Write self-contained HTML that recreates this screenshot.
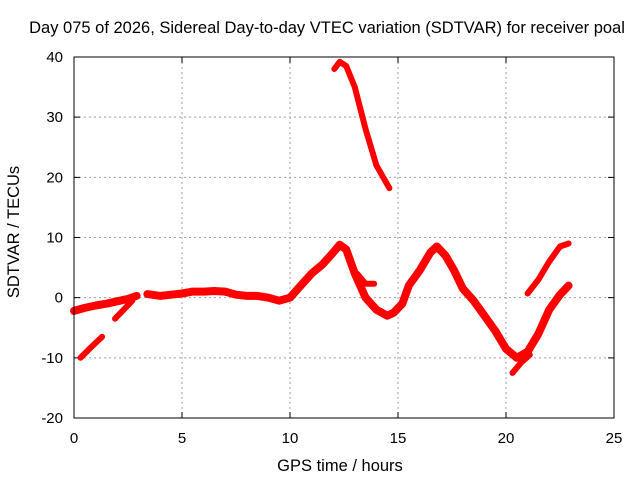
<!DOCTYPE html>
<html><head><meta charset="utf-8"><style>
body{margin:0;background:#fff}
svg text{font-family:"Liberation Sans",sans-serif;font-size:16.5px;fill:#000}
svg text.tk{font-size:15px}
</style></head><body>
<svg id="chart" width="640" height="480">
<text x="327" y="33" text-anchor="middle">Day 075 of 2026, Sidereal Day-to-day VTEC variation (SDTVAR) for receiver poal</text>
<text x="340" y="471" text-anchor="middle">GPS time / hours</text>
<text transform="translate(19,232) rotate(-90)" text-anchor="middle">SDTVAR / TECUs</text>
<g id="grid"></g><g id="ticks"></g><g id="series"></g>
<rect x="74" y="57" width="540" height="361" fill="none" stroke="#000" stroke-width="1"/>
</svg>
<script>
const xTicks=[0,5,10,15,20,25];
const yTicks=[-20,-10,0,10,20,30,40];
const segMainX=[0,0.5,1,1.5,2,2.5,2.9];
const segMainY=[-2.2,-1.7,-1.3,-1,-0.6,-0.2,0.3];
const segMain2X=[3.4,4,4.5,5,5.5,6,6.5,7,7.5,8,8.5,9,9.5,10,10.5,11,11.5,12,12.3,12.6,13,13.5,14,14.5,14.8,15.2,15.5,16,16.5,16.8,17.2,17.6,18,18.5,19,19.5,20,20.5,21,21.5,22,22.5,22.9];
const segMain2Y=[0.6,0.3,0.5,0.7,1,1,1.1,1,0.5,0.3,0.3,0,-0.5,0,2,4,5.5,7.5,8.8,8,4,0,-2,-3,-2.5,-1,2,4.5,7.5,8.5,7,4.5,1.5,-0.5,-3,-5.5,-8.5,-10,-9,-6,-2,0.5,2];
const segBX=[0.3,0.8,1.3];const segBY=[-10,-8.2,-6.5];
const segCX=[1.9,2.3,2.7];const segCY=[-3.5,-2,-0.5];
const segDX=[12.05,12.3,12.6,13,13.5,14,14.6];const segDY=[38,39.2,38.5,35,28,22,18.2];
const segEX=[13.1,13.5,13.9];const segEY=[4,2.3,2.3];
const segFX=[21,21.5,22,22.5,22.9];const segFY=[0.7,3,6,8.5,9];
const segGX=[20.3,20.7,21.1];const segGY=[-12.5,-10.8,-9.5];
const X=v=>74+v*540/25, Y=v=>418-(v+20)*361/60;
const NS="http://www.w3.org/2000/svg";
const grid=document.getElementById('grid'),ticks=document.getElementById('ticks'),ser=document.getElementById('series');
function mk(t,a,p){const e=document.createElementNS(NS,t);for(const k in a)e.setAttribute(k,a[k]);p.appendChild(e);return e;}
xTicks.forEach(t=>{const x=X(t);
 if(t>0&&t<25){const l=mk('line',{x1:x,x2:x,y1:57,y2:418,stroke:'#a0a0a0','stroke-dasharray':'2,3'},grid);
 
 }
 const tk=mk('path',{d:`M${x},418v-6M${x},57v6`,stroke:'#000'},ticks);
 
 
 const tx=mk('text',{x:x,y:443,'text-anchor':'middle','class':'tk'},ticks);tx.textContent=t;
 
 });
yTicks.forEach(t=>{const y=Y(t);
 if(t>-20&&t<40){const l=mk('line',{x1:74,x2:614,y1:y,y2:y,stroke:'#a0a0a0','stroke-dasharray':'2,3'},grid);
 
 }
 const tk=mk('path',{d:`M74,${y}h6M614,${y}h-6`,stroke:'#000'},ticks);
 
 
 const tx=mk('text',{x:63,y:y+5,'text-anchor':'end','class':'tk'},ticks);tx.textContent=t;
 
 });
[[segMainX,segMainY,8],[segMain2X,segMain2Y,8],[segBX,segBY,6],[segCX,segCY,6],[segDX,segDY,6],[segEX,segEY,6],[segFX,segFY,6],[segGX,segGY,6]].forEach(([xs,ys,w])=>{
 const d=xs.map((v,i)=>(i?'L':'M')+X(v).toFixed(1)+','+Y(ys[i]).toFixed(1)).join('');
 const p=mk('path',{d:d,fill:'none',stroke:'#ff0000','stroke-width':w,'stroke-linejoin':'round','stroke-linecap':'round'},ser);
 
 });
</script>
</body></html>
